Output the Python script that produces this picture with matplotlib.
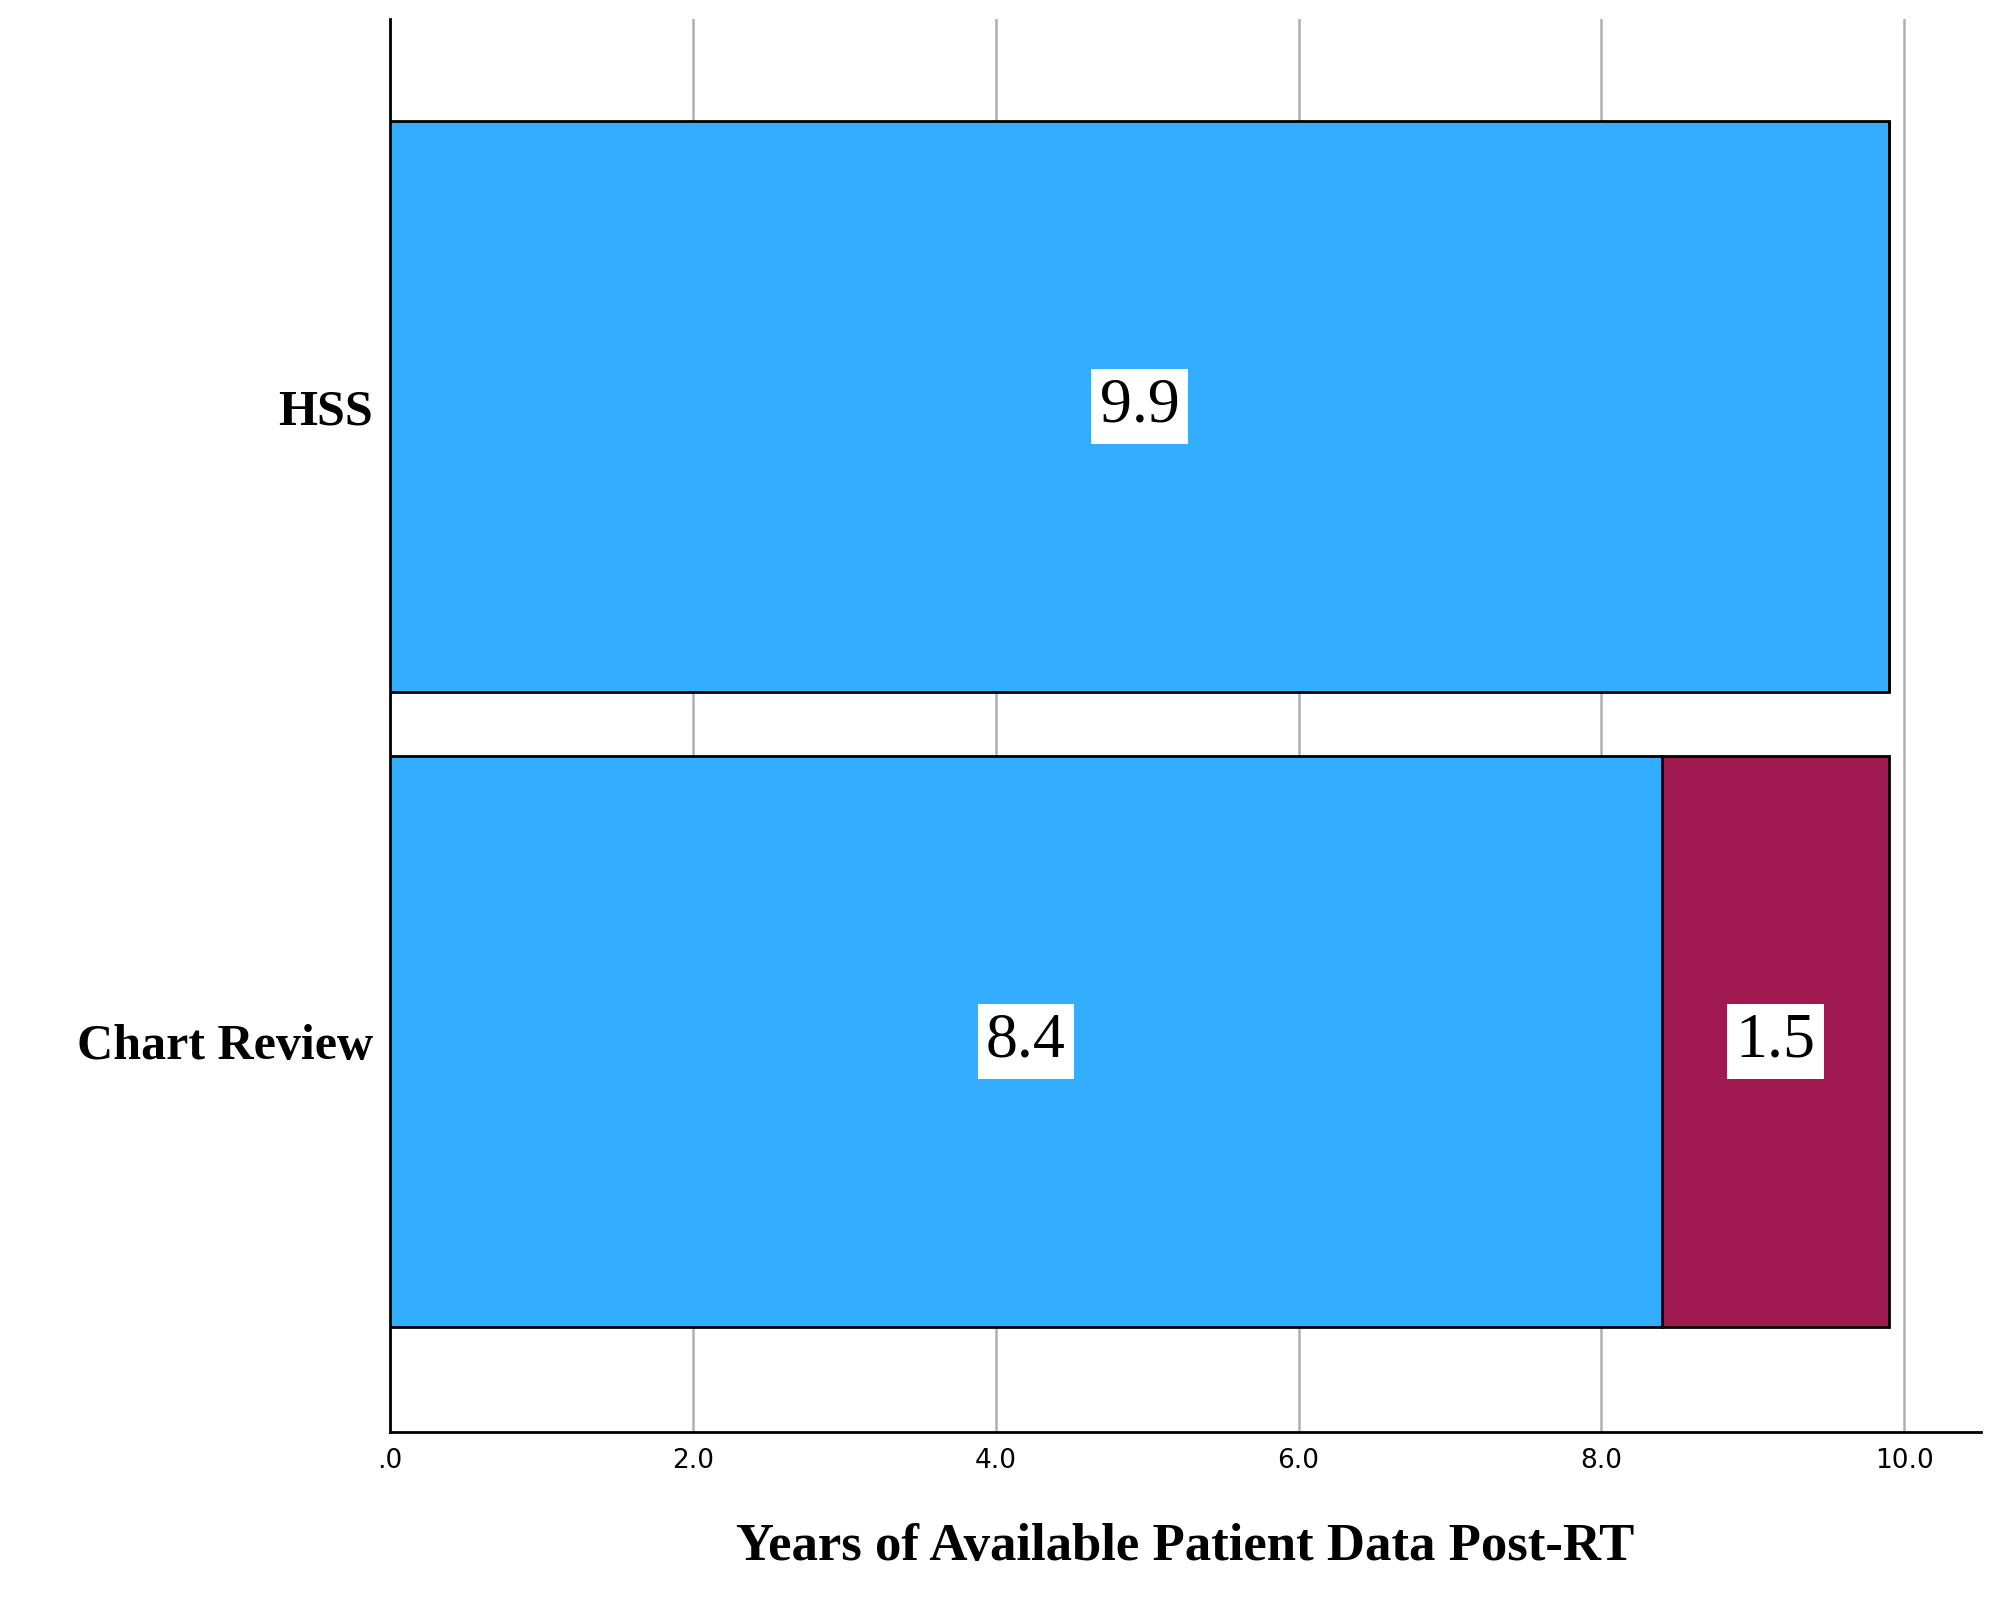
import matplotlib
matplotlib.use("Agg")
from matplotlib import pyplot as plt

categories = ["Chart Review", "HSS"]
first_part = [8.4, 9.9]
second_part = [1.5, 0.0]
ticks = [0, 2, 4, 6, 8, 10]
tick_labels = [".0", "2.0", "4.0", "6.0", "8.0", "10.0"]

blue = "#33AEFF"
maroon = "#A0194F"

fig = plt.figure(figsize=(20.04, 16.14), dpi=100)
ax = fig.add_axes([0.1945, 0.113, 0.794, 0.875])

ypos = list(range(len(categories)))
ax.barh(ypos, first_part, height=0.9, color=blue, edgecolor="black", linewidth=2, zorder=3)
ax.barh(ypos, second_part, left=first_part, height=0.9, color=maroon,
        edgecolor="black", linewidth=2, zorder=3)

box = dict(facecolor="white", edgecolor="none", pad=6)
for y, a, b in zip(ypos, first_part, second_part):
    ax.text(a / 2, y, f"{a:.1f}", ha="center", va="center", fontsize=46,
            family="Liberation Serif", bbox=box, zorder=4)
    if b > 0:
        ax.text(a + b / 2, y, f"{b:.1f}", ha="center", va="center", fontsize=46,
                family="Liberation Serif", bbox=box, zorder=4)

ax.set_xlim(0, 10.506)
ax.set_ylim(-0.614, 1.61)
ax.set_xticks(ticks)
ax.set_xticklabels(tick_labels, fontsize=19)
ax.set_yticks(ypos)
ax.set_yticklabels(categories, fontsize=36, family="Liberation Serif", fontweight="bold")
ax.tick_params(length=0, pad=12)
ax.xaxis.grid(True, color="#b0b0b0", linewidth=1.8, zorder=0)
for s in ["top", "right"]:
    ax.spines[s].set_visible(False)
for s in ["left", "bottom"]:
    ax.spines[s].set_linewidth(2)
ax.set_xlabel("Years of Available Patient Data Post-RT", fontsize=38,
              family="Liberation Serif", fontweight="bold", labelpad=35)

fig.savefig("out.png")
